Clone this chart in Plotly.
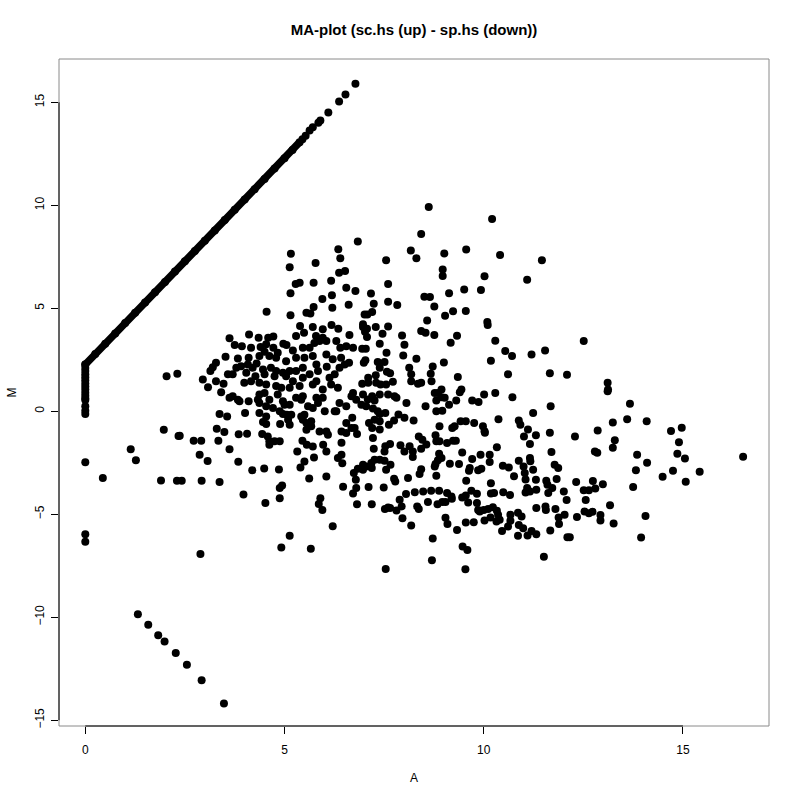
import plotly.graph_objects as go

# ---- data (A = mean log-expression, M = log-ratio) ----
# dense diagonal band (genes with zero count in one sample)
band_A = [0.00, 0.25, 0.50, 0.75, 1.00, 1.25, 1.50, 1.75, 2.00, 2.25, 2.50, 2.75,
          3.00, 3.25, 3.50, 3.75, 4.00, 4.25, 4.50, 4.75, 5.00, 5.20, 5.38]
band_M = [2.27, 2.78, 3.28, 3.78, 4.28, 4.78, 5.28, 5.78, 6.28, 6.78, 7.28, 7.78,
          8.28, 8.78, 9.28, 9.78, 10.28, 10.78, 11.28, 11.78, 12.28, 12.68, 13.06]

# sparse end of the diagonal
diag_pts = [(5.45, 13.20), (5.53, 13.38), (5.63, 13.63), (5.71, 13.79), (5.85, 14.01),
            (5.90, 14.11), (6.10, 14.50), (6.37, 15.04), (6.53, 15.38), (6.78, 15.90)]

# points at A = 0
zero_pts = [(0, 2.27), (0, 2.10), (0, 1.95), (0, 1.80), (0, 1.65), (0, 1.50), (0, 1.35),
            (0, 1.20), (0, 1.05), (0, 0.90), (0, 0.75), (0, 0.62), (0, 0.54), (0, 0.24),
            (0, 0.03), (0, -0.13), (0, -2.47), (0, -5.97), (0, -6.33)]

# lower diagonal (down-only genes)
low_diag = [(1.32, -9.85), (1.58, -10.36), (1.83, -10.88), (1.99, -11.18), (2.27, -11.74),
            (2.55, -12.31), (2.92, -13.06), (3.48, -14.19)]

upper_left = [(6.84, 8.24), (5.16, 7.65), (6.35, 7.87), (6.40, 7.43), (5.78, 7.20), (5.13, 6.99),
              (6.52, 6.81), (6.37, 6.72), (5.28, 6.18), (5.38, 6.24), (5.73, 6.24), (6.17, 6.34),
              (6.55, 6.00), (6.78, 5.84), (5.15, 5.73), (5.95, 5.45), (6.19, 5.63), (6.61, 5.17),
              (5.73, 5.06), (5.55, 4.78), (5.65, 4.75), (4.55, 4.83), (6.20, 5.03), (5.15, 4.66),
              (5.39, 4.14), (5.71, 4.09), (6.18, 4.19), (6.35, 4.01), (6.63, 3.70), (5.96, 3.98),
              (5.49, 3.81), (5.29, 3.65), (5.79, 3.65), (3.62, 3.54), (4.11, 3.72), (4.35, 3.57),
              (4.59, 3.57), (4.72, 3.63), (3.75, 3.21), (3.93, 3.16), (4.16, 3.08), (4.40, 3.12),
              (4.54, 3.25), (4.97, 3.28), (5.05, 3.21), (5.21, 2.95), (5.46, 3.08), (5.63, 3.08),
              (5.75, 3.31), (5.88, 3.41), (5.96, 3.57), (6.05, 3.41), (6.30, 3.41), (6.40, 3.08),
              (6.55, 3.16), (6.72, 3.08), (4.72, 3.08), (4.83, 2.84), (4.50, 2.89), (4.62, 2.68),
              (4.79, 2.60), (5.04, 2.43), (5.29, 2.60), (5.50, 2.60), (5.71, 2.68), (5.80, 2.27),
              (6.05, 2.76), (6.21, 2.52), (6.42, 2.60), (6.51, 2.27), (6.62, 2.35), (3.52, 2.65),
              (3.83, 2.56), (4.10, 2.60), (4.37, 2.68), (3.28, 2.35), (3.20, 2.14), (3.14, 1.95),
              (3.79, 2.11), (3.91, 2.19), (4.08, 2.27), (4.20, 2.11), (4.30, 2.32), (4.46, 2.03),
              (4.66, 2.11), (4.79, 1.95), (4.96, 1.87), (5.13, 1.95), (5.29, 1.95), (5.46, 2.11),
              (5.63, 1.79), (5.84, 1.95), (6.06, 2.16), (6.26, 1.79), (6.38, 2.11), (3.58, 1.79),
              (3.70, 1.79), (4.04, 1.87), (4.27, 1.70), (4.50, 1.79), (4.75, 1.70), (5.04, 1.70),
              (5.21, 1.46), (5.46, 1.62), (5.80, 1.46), (6.13, 1.62), (2.04, 1.70), (2.31, 1.82),
              (2.95, 1.54), (3.28, 1.46), (3.47, 1.33), (3.08, 1.17), (3.99, 1.38), (4.16, 1.46),
              (4.37, 1.38), (4.54, 1.30), (4.79, 1.22), (4.92, 1.14), (5.13, 1.14), (5.38, 1.22),
              (5.71, 1.30), (5.96, 1.06), (6.17, 1.30), (6.34, 1.14)]

upper_mid = [(8.62, 9.91), (10.21, 9.33), (8.43, 8.61), (8.17, 7.80), (8.31, 7.43), (9.01, 7.66),
             (9.56, 7.85), (10.41, 7.59), (11.46, 7.33), (7.55, 7.33), (8.97, 6.88), (8.97, 6.57),
             (10.02, 6.55), (11.09, 6.38), (7.60, 6.18), (7.17, 5.71), (9.13, 5.73), (9.51, 5.91),
             (9.93, 5.89), (8.51, 5.56), (8.65, 5.55), (7.24, 5.22), (7.60, 5.31), (7.83, 5.16),
             (8.76, 5.08), (7.01, 4.70), (7.08, 4.70), (7.20, 4.82), (9.03, 4.64), (9.23, 4.85),
             (9.55, 4.87), (8.58, 4.40), (6.97, 4.22), (6.97, 4.09), (7.07, 4.01), (7.02, 3.86),
             (7.29, 4.09), (7.60, 4.12), (7.07, 3.60), (7.46, 3.76), (8.43, 3.89), (8.54, 3.81),
             (8.76, 3.70), (9.33, 3.67), (10.09, 4.33), (10.10, 4.19), (7.95, 3.68), (8.01, 3.23),
             (10.29, 3.42), (9.17, 3.33), (7.39, 3.28), (6.95, 3.03), (7.04, 3.03), (7.56, 2.84),
             (7.98, 2.71), (8.31, 2.55), (6.99, 2.35), (7.03, 2.47), (7.34, 2.39), (7.51, 2.39),
             (7.39, 2.11), (8.13, 2.11), (8.72, 2.17), (9.00, 2.37), (10.18, 2.45), (10.54, 2.92),
             (10.71, 2.68), (11.20, 2.76), (11.54, 2.95), (10.61, 1.79), (11.66, 1.85), (12.09, 1.77),
             (9.35, 1.66), (7.57, 1.92), (7.65, 1.85), (7.29, 1.75), (7.10, 1.62), (6.95, 1.33),
             (7.10, 1.38), (7.30, 1.38), (7.41, 1.30), (7.55, 1.30), (7.72, 1.43), (8.18, 1.79),
             (8.18, 1.46), (8.35, 1.33), (8.43, 1.38), (8.67, 1.82), (8.69, 1.46), (8.94, 1.06),
             (9.44, 1.06)]

upper_right = [(12.51, 3.41), (13.11, 1.38), (13.12, 1.06)]

lower_left = [(3.41, 0.92), (3.62, 0.65), (3.70, 0.73), (3.83, 0.56), (3.87, 0.48), (4.10, 0.48),
              (4.33, 0.56), (4.37, 0.81), (4.50, 0.89), (4.62, 0.56), (4.37, 0.40), (4.54, 0.24),
              (4.71, 0.16), (4.83, 0.81), (4.96, 0.48), (5.00, 0.32), (5.13, 0.32), (5.29, 0.65),
              (5.42, 0.56), (5.46, 0.73), (5.59, 0.24), (5.71, 0.16), (5.80, 0.65), (5.84, 0.40),
              (5.96, 0.65), (6.01, 0.00), (6.26, 0.00), (6.38, 0.40), (6.55, 0.24), (6.68, 0.73),
              (6.80, 0.56), (6.72, 0.89), (3.37, -0.13), (3.56, -0.26), (4.01, -0.08), (4.37, -0.08),
              (4.54, -0.25), (4.46, -0.52), (4.54, -0.62), (4.88, 0.00), (4.96, -0.13), (5.06, -0.17),
              (5.17, -0.17), (4.89, -0.62), (5.09, -0.41), (5.13, -0.65), (5.42, -0.25), (5.50, -0.17),
              (5.46, -0.41), (5.55, -0.57), (5.67, -0.49), (5.67, -0.73), (6.30, 0.00), (6.55, -0.57),
              (6.70, -0.32), (6.76, -0.81), (3.30, -0.85), (3.49, -1.01), (3.85, -1.12), (4.06, -1.09),
              (4.44, -1.11), (4.58, -1.22), (4.62, -1.46), (4.75, -1.46), (4.88, -1.46), (4.62, -1.63),
              (5.55, -0.90), (5.45, -1.43), (5.56, -1.63), (5.71, -1.71), (5.88, -0.98), (6.05, -0.98),
              (6.09, -1.14), (5.97, -1.63), (6.05, -1.95), (6.43, -0.98), (6.55, -1.06), (6.68, -0.81),
              (6.82, -1.11), (6.43, -1.53), (1.97, -0.90), (2.37, -1.19), (2.72, -1.43), (2.91, -1.43),
              (3.34, -1.43), (3.62, -1.85), (2.87, -2.11), (3.07, -2.42), (3.84, -2.45), (5.32, -1.95),
              (5.50, -2.44), (5.74, -2.24), (5.40, -2.73), (6.34, -2.27), (6.43, -2.11), (6.45, -2.52),
              (4.19, -2.86), (4.49, -2.78), (4.86, -2.83), (1.90, -3.36), (2.30, -3.38), (2.42, -3.38),
              (2.92, -3.38), (3.37, -3.43), (5.62, -3.26), (6.05, -3.17), (6.74, -3.00), (6.79, -3.33),
              (6.84, -2.79), (3.97, -4.04), (4.52, -4.46), (4.88, -4.22), (4.88, -3.73), (4.94, -3.60),
              (5.90, -4.22), (5.86, -4.50), (5.95, -4.80), (6.47, -3.67), (6.72, -3.99), (6.80, -3.73),
              (6.82, -4.51), (6.21, -5.58), (5.13, -6.05), (4.92, -6.62), (5.66, -6.67), (2.89, -6.93),
              (0.44, -3.24), (1.14, -1.85), (1.27, -2.38), (2.34, -1.20)]

lower_mid = [(6.97, 0.81), (7.09, 0.57), (7.20, 0.73), (7.26, 0.52), (7.39, 0.81), (7.60, 0.81),
             (7.76, 0.73), (7.81, 0.65), (8.06, 0.40), (8.54, 0.24), (8.77, 0.89), (8.85, 0.89),
             (8.94, 0.68), (9.02, 0.65), (8.81, 0.52), (9.13, 0.32), (8.81, 0.00), (8.96, 0.03),
             (9.31, 0.52), (9.40, 0.92), (9.71, 0.52), (9.87, 0.45), (10.01, 0.81), (10.29, 0.88),
             (10.72, 0.68), (11.68, 0.24), (6.93, 0.32), (7.05, 0.24), (7.22, 0.13), (7.34, 0.00),
             (7.39, -0.13), (7.53, -0.08), (7.12, -0.57), (7.26, -0.41), (7.39, -0.49), (7.62, -0.65),
             (7.75, -0.45), (7.86, -0.16), (8.01, -0.32), (8.24, -0.45), (7.20, -0.81), (7.39, -0.89),
             (7.22, -1.30), (7.24, -1.82), (7.51, -1.95), (7.53, -1.70), (7.65, -1.59), (7.91, -1.65),
             (8.01, -1.95), (8.14, -1.70), (8.22, -1.95), (8.22, -2.22), (8.37, -1.22), (8.46, -1.38),
             (8.43, -1.82), (8.56, -1.62), (8.79, -1.17), (8.81, -1.46), (8.89, -1.46), (8.89, -0.73),
             (9.21, -0.81), (9.27, -0.73), (9.42, -0.49), (9.55, -0.49), (9.76, -0.57), (9.98, -0.73),
             (10.02, -0.97), (10.03, -1.05), (9.08, -1.54), (9.23, -1.43), (9.30, -1.43), (9.46, -2.00),
             (8.88, -2.06), (8.94, -2.27), (8.85, -2.38), (8.79, -2.56), (8.77, -2.68), (9.15, -2.55),
             (9.38, -2.56), (9.71, -2.32), (9.65, -2.76), (9.63, -2.89), (9.86, -2.87), (9.94, -2.79),
             (9.92, -2.11), (10.15, -2.11), (10.15, -2.46), (10.33, -1.75), (10.37, -0.39), (10.88, -0.45),
             (10.92, -0.65), (11.11, -0.89), (11.01, -1.22), (11.16, -1.59), (11.31, -1.17), (11.24, -0.08),
             (11.66, -1.05), (11.70, -1.98), (10.48, -2.64), (10.63, -2.73), (10.88, -2.40), (11.00, -2.68),
             (11.03, -3.00), (11.24, -2.84), (11.16, -2.27), (11.17, -2.43), (10.76, -3.16), (11.05, -3.31),
             (11.09, -3.73), (11.16, -3.89), (11.05, -3.94), (11.31, -3.33), (11.32, -3.81), (11.57, -3.37),
             (11.60, -3.57), (11.72, -3.73), (11.78, -2.60), (11.87, -2.76), (11.83, -3.29), (11.62, -3.97),
             (12.01, -3.89), (12.08, -4.31), (6.97, -2.60), (6.97, -2.84), (7.05, -2.68), (7.18, -2.51),
             (7.26, -2.35), (7.39, -2.35), (7.51, -2.40), (7.55, -2.84), (7.66, -2.60), (7.19, -2.76),
             (7.11, -3.68), (7.49, -3.70), (7.75, -3.28), (7.78, -3.41), (8.10, -3.24), (8.43, -2.81),
             (8.39, -3.05), (8.81, -3.13), (9.56, -3.37), (10.18, -3.49), (10.18, -3.99), (10.26, -3.97),
             (10.49, -3.93), (10.66, -4.07), (8.05, -4.02), (8.27, -3.93), (8.48, -3.89), (8.68, -3.86),
             (8.88, -3.86), (9.08, -3.97), (9.19, -4.14), (9.20, -4.25), (9.46, -4.19), (9.55, -4.09),
             (9.69, -3.86), (9.83, -4.01), (9.83, -4.46), (9.61, -4.43), (9.04, -4.40), (8.60, -4.41),
             (8.84, -4.51), (8.96, -4.41), (7.89, -4.30), (7.94, -4.62), (7.52, -4.74), (7.60, -4.67),
             (7.65, -4.70), (7.81, -4.82), (8.33, -4.62), (8.37, -4.74), (7.19, -4.51), (9.86, -4.79),
             (9.90, -4.87), (10.00, -4.79), (10.11, -4.74), (10.23, -4.66), (10.33, -4.83), (10.36, -5.03),
             (10.17, -5.16), (10.02, -5.30), (10.32, -5.35), (10.40, -5.27), (10.67, -5.03), (10.67, -5.32),
             (10.86, -4.93), (10.95, -5.11), (10.46, -5.81), (10.61, -5.60), (10.88, -5.52), (10.99, -5.68),
             (11.10, -6.03), (11.20, -5.81), (11.32, -5.97), (10.86, -6.05), (11.32, -4.70), (11.55, -4.62),
             (11.56, -4.80), (11.80, -4.75), (11.88, -5.16), (11.89, -5.47), (12.03, -5.03), (11.67, -5.79),
             (12.10, -6.12), (7.96, -5.19), (8.18, -5.55), (9.04, -5.17), (9.09, -5.47), (9.33, -5.77),
             (9.55, -5.40), (9.75, -5.39), (8.72, -6.18), (9.47, -6.57), (9.59, -6.73), (11.51, -7.06),
             (8.70, -7.23), (7.54, -7.66), (9.54, -7.67)]

lower_right = [(13.11, 0.97), (13.67, 0.36), (13.24, -0.55), (13.60, -0.39), (14.09, -0.49),
               (12.29, -1.22), (12.86, -0.94), (14.70, -0.96), (14.97, -0.80), (13.29, -1.41),
               (13.24, -1.77), (12.79, -1.95), (12.85, -2.01), (14.90, -1.51), (13.85, -2.11),
               (14.10, -2.50), (14.86, -2.06), (15.05, -2.30), (16.51, -2.21), (13.82, -2.86),
               (14.75, -2.89), (14.49, -3.18), (15.42, -2.94), (15.07, -3.42), (12.32, -3.44),
               (12.74, -3.39), (12.99, -3.55), (12.51, -3.83), (12.64, -3.83), (12.80, -3.75),
               (13.75, -3.68), (12.56, -4.31), (13.17, -4.56), (12.53, -4.87), (12.64, -4.95),
               (12.73, -4.88), (12.34, -5.14), (12.93, -5.04), (12.93, -5.30), (13.26, -5.45),
               (14.06, -5.08), (12.16, -6.12), (13.95, -6.13)]

x_ticks = [0, 5, 10, 15]
y_ticks = [-15, -10, -5, 0, 5, 10, 15]
title_text = "MA-plot (sc.hs (up) - sp.hs (down))"

# ---- figure ----
all_pts = diag_pts + zero_pts + low_diag + upper_left + upper_mid + upper_right + \
    lower_left + lower_mid + lower_right
A_vals = [p[0] for p in all_pts]
M_vals = [p[1] for p in all_pts]

fig = go.Figure()
fig.add_trace(go.Scatter(x=band_A, y=band_M, mode="lines+markers",
                         line=dict(color="black", width=7.5),
                         marker=dict(color="black", size=8), hoverinfo="skip"))
fig.add_trace(go.Scatter(x=A_vals, y=M_vals, mode="markers",
                         marker=dict(color="black", size=8, line=dict(width=0))))

W = H = 800
font_main = "Liberation Sans, Arial, Helvetica, sans-serif"
fig.update_layout(
    width=W, height=H,
    margin=dict(l=59, r=31, t=59, b=74),
    plot_bgcolor="white", paper_bgcolor="white",
    showlegend=False,
    font=dict(family=font_main, size=12, color="black"),
    title=dict(text="<b>" + title_text + "</b>", x=0.5, xref="paper",
               y=1 - 30 / H, yref="container", yanchor="middle",
               font=dict(family=font_main, size=15, color="black")),
    xaxis=dict(range=[-0.66, 17.16], tickvals=x_ticks, ticks="outside", ticklen=7,
               tickcolor="black", tickwidth=1, showgrid=False, zeroline=False,
               showline=False, ticklabelstandoff=6, tickfont=dict(size=12)),
    yaxis=dict(range=[-15.28, 17.10], tickvals=y_ticks, ticks="outside", ticklen=7,
               tickcolor="black", tickwidth=1, showgrid=False, zeroline=False,
               showline=False, tickangle=-90, ticklabelstandoff=2, tickfont=dict(size=12)),
    shapes=[
        dict(type="rect", xref="paper", yref="paper", x0=0, y0=0, x1=1, y1=1,
             line=dict(color="#8a8a8a", width=1)),
        dict(type="line", xref="x", yref="paper", x0=x_ticks[0], x1=x_ticks[-1], y0=0, y1=0,
             line=dict(color="black", width=1)),
        dict(type="line", xref="paper", yref="y", x0=0, x1=0, y0=y_ticks[0], y1=y_ticks[-1],
             line=dict(color="black", width=1)),
    ],
    annotations=[
        dict(text="A", xref="paper", yref="paper", x=0.5, y=-(778 - 726) / 667,
             showarrow=False, yanchor="middle", font=dict(size=12)),
        dict(text="M", xref="paper", yref="paper", x=-(59 - 11) / 710, y=0.5,
             showarrow=False, xanchor="center", textangle=-90, font=dict(size=12)),
    ],
)

# remove the browser's default 8px body margin so the figure sits at the page origin
fig.write_html("out.html", config={"displayModeBar": False},
               post_script="document.body.style.margin='0';")
